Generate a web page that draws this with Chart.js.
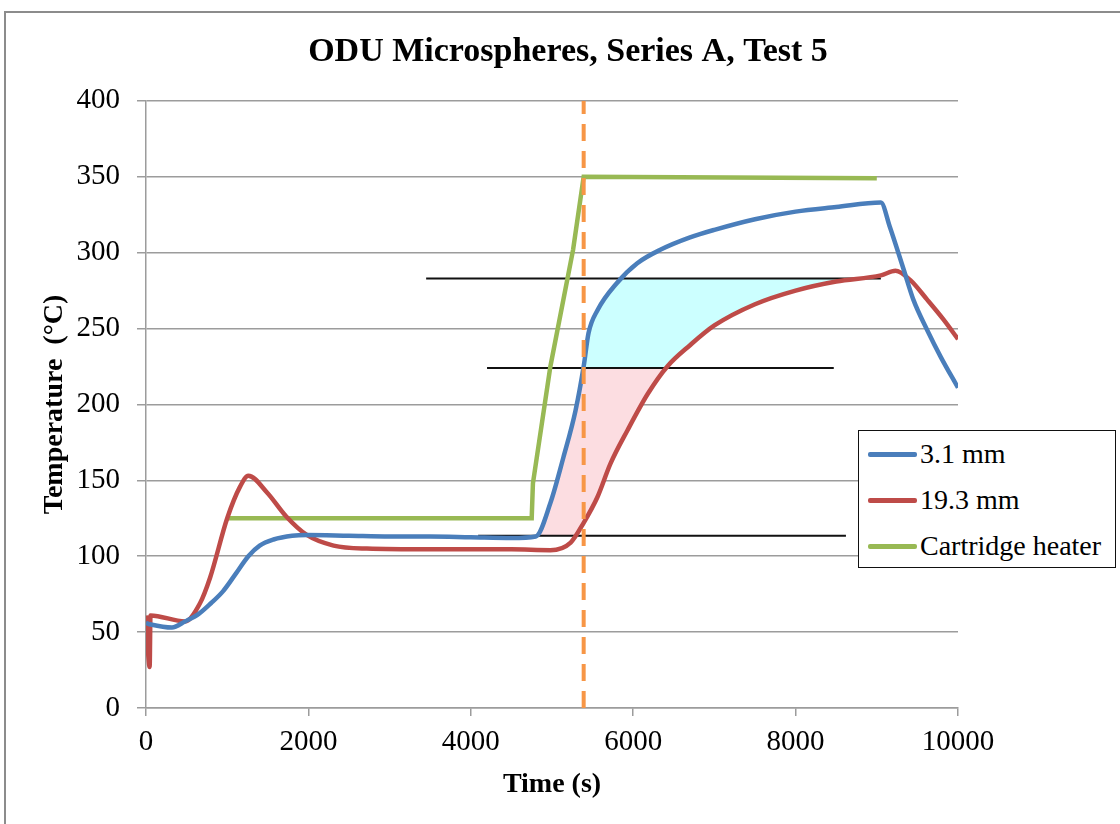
<!DOCTYPE html>
<html>
<head>
<meta charset="utf-8">
<title>ODU Microspheres, Series A, Test 5</title>
<script src="https://cdn.jsdelivr.net/npm/chart.js@4.4.1/dist/chart.umd.min.js"></script>
<style>
  body { margin: 0; background: #fff; }
  #wrap { position: relative; width: 1120px; height: 824px; overflow: hidden; }
  #frame { position: absolute; left: 4px; top: 11px; width: 1200px; height: 900px;
    border-left: 2px solid #8c8c8c; border-top: 2px solid #8c8c8c; }
  canvas { position: absolute; left: 0; top: 0; }
  #legend { position: absolute; left: 858px; top: 430px; width: 256px; height: 136px;
    border: 1.5px solid #111; background: #fff;
    font-family: 'Liberation Serif', serif; font-size: 28px; color: #000; }
  .row { display: flex; align-items: center; height: 46px; }
  .swatch { width: 49px; height: 5px; margin-left: 9px; margin-right: 3px; border-radius: 2px; }
</style>
</head>
<body>
<div id="wrap">
  <div id="frame"></div>
  <canvas id="myChart" width="1120" height="824"></canvas>
  <div id="legend"></div>
</div>
<script>
'use strict';

// series data: time (s) and temperature (°C)

let seriesLabels = ['3.1 mm', '19.3 mm', 'Cartridge heater'];

let blueTime = [0, 60, 320, 480, 650, 800, 950, 1100, 1260, 1400, 1570, 1800, 1980, 2500, 3000, 3500, 4000, 4500, 4800,
  4980, 5140, 5290, 5390, 5450, 5560, 5800, 6050, 6340, 6700, 7000, 7500, 8000, 8500, 9050,
  9160, 9330, 9450, 9620, 9790, 10000];
let blueTemp = [56, 55, 53, 57, 62, 69, 77, 88, 100, 107, 111, 113.5, 114, 113.5, 113, 113, 112.5, 112, 113,
  135, 165, 196, 225, 247, 262, 280, 293, 302, 310, 315, 322, 327, 330, 333,
  317, 289, 269, 249, 231, 211];

let redTime = [0, 45, 55, 480, 665, 790, 1000, 1160, 1260, 1490, 1730, 1980, 2310, 2720, 3500, 4500,
  4980, 5230, 5390, 5560, 5720, 5930, 6180, 6420, 6700, 7000, 7500, 8000, 8500, 9050,
  9230, 9410, 9620, 9820, 10000];
let redTemp = [61, 27, 61, 57, 69, 86, 125, 146, 153, 142, 126, 114, 107, 105, 104.5, 104.5,
  104, 109, 122, 139, 161, 183, 207, 225, 239, 252, 266, 275, 281, 285,
  288, 282, 269, 256, 243];

let heaterTime = [1000, 4750, 4765, 4980, 5260, 5390, 9000];
let heaterTemp = [125, 125, 148, 225, 302, 350, 349];

// horizontal marker lines: level and the time span they cover
let markerTemp = [283, 224, 113.5];
let markerStart = [3450, 4200, 4090];
let markerEnd = [9050, 8470, 8620];

// heater reaches set point
let setPointTime = 5390;

// shaded bands between the two thermocouples, from bandStart onward
let bandLow = [224, 113.5];
let bandHigh = [283, 224];
let bandStart = 4700;

let xTicks = [0, 2000, 4000, 6000, 8000, 10000];
let yTicks = [0, 50, 100, 150, 200, 250, 300, 350, 400];

// helpers

function toPoints(times, temps) {
  let points = [];
  for (let i = 0; i < times.length; i++) {
    points.push({ x: times[i], y: temps[i] });
  }
  return points;
}

let serif = 'Liberation Serif';
let gridGrey = '#9c9c9c';
let bandFill = ['#ccffff', '#fcdde1'];

// fills the region between the two traces inside each band
let bandPlugin = {
  id: 'bands',
  beforeDatasetsDraw(chart) {
    let ctx = chart.ctx;
    let area = chart.chartArea;
    let xScale = chart.scales.x;
    let yScale = chart.scales.y;
    let upper = chart.getDatasetMeta(0).dataset;
    let lower = chart.getDatasetMeta(1).dataset;
    upper.updateControlPoints(area, 'x');
    lower.updateControlPoints(area, 'x');
    let left = xScale.getPixelForValue(bandStart);

    for (let i = 0; i < bandLow.length; i++) {
      let top = yScale.getPixelForValue(bandHigh[i]);
      let bottom = yScale.getPixelForValue(bandLow[i]);
      ctx.save();
      ctx.beginPath();
      ctx.rect(left, top, area.right - left, bottom - top);
      ctx.clip();

      // below the 3.1 mm trace
      ctx.beginPath();
      upper.path(ctx);
      ctx.lineTo(area.right, area.bottom);
      ctx.lineTo(area.left, area.bottom);
      ctx.closePath();
      ctx.clip();

      // above the 19.3 mm trace
      ctx.beginPath();
      lower.path(ctx);
      ctx.lineTo(area.right, area.top);
      ctx.lineTo(area.left, area.top);
      ctx.closePath();
      ctx.fillStyle = bandFill[i];
      ctx.fill();
      ctx.restore();
    }
  }
};

// datasets

let datasets = [
  {
    label: seriesLabels[0],
    data: toPoints(blueTime, blueTemp),
    borderColor: '#4a7ebb',
    borderWidth: 4.5,
    cubicInterpolationMode: 'monotone',
    order: 1
  },
  {
    label: seriesLabels[1],
    data: toPoints(redTime, redTemp),
    borderColor: '#be4b48',
    borderWidth: 4.5,
    cubicInterpolationMode: 'monotone',
    order: 2
  },
  {
    label: seriesLabels[2],
    data: toPoints(heaterTime, heaterTemp),
    borderColor: '#98b954',
    borderWidth: 4.5,
    tension: 0,
    order: 3
  }
];

for (let i = 0; i < markerTemp.length; i++) {
  datasets.push({
    label: 'marker ' + i,
    data: [{ x: markerStart[i], y: markerTemp[i] }, { x: markerEnd[i], y: markerTemp[i] }],
    borderColor: '#111',
    borderWidth: 2,
    order: 4
  });
}

datasets.push({
  label: 'set point',
  data: [{ x: setPointTime, y: 0 }, { x: setPointTime, y: 400 }],
  borderColor: '#f79646',
  borderWidth: 4,
  borderDash: [17, 10],
  order: 0
});

const config = {
  type: 'line',
  data: { datasets: datasets },
  options: {
    responsive: false,
    animation: false,
    devicePixelRatio: 1,
    parsing: false,
    elements: { point: { radius: 0 } },
    layout: { padding: { left: 16, right: 0, top: 0, bottom: 0 } },
    plugins: {
      legend: { display: false },
      tooltip: { enabled: false },
      title: {
        display: true,
        text: 'ODU Microspheres, Series A, Test 5',
        color: '#000',
        font: { family: serif, size: 34, weight: 'bold' },
        padding: { top: 32, bottom: 28 }
      }
    },
    scales: {
      x: {
        type: 'linear',
        min: 0,
        max: 10000,
        afterBuildTicks: (scale) => { scale.ticks = xTicks.map(v => ({ value: v })); },
        afterFit: (scale) => { scale.height = 116; },
        grid: { drawOnChartArea: false, drawTicks: true, tickLength: 8, color: gridGrey, lineWidth: 1.5 },
        border: { color: gridGrey, width: 1.5 },
        ticks: {
          color: '#000', padding: 9, maxRotation: 0,
          font: { family: serif, size: 29 },
          callback: (value) => String(value)
        },
        title: {
          display: true,
          text: 'Time (s)',
          color: '#000',
          font: { family: serif, size: 28, weight: 'bold' },
          padding: { top: 0, bottom: 22 }
        }
      },
      y: {
        type: 'linear',
        min: 0,
        max: 400,
        afterBuildTicks: (scale) => { scale.ticks = yTicks.map(v => ({ value: v })); },
        afterFit: (scale) => { scale.width = 130; },
        grid: { color: gridGrey, lineWidth: 1.5, tickLength: 9 },
        border: { color: gridGrey, width: 1.5 },
        ticks: {
          color: '#000', padding: 17,
          font: { family: serif, size: 29 },
          callback: (value) => String(value)
        },
        title: {
          display: true,
          text: 'Temperature  (°C)',
          color: '#000',
          font: { family: serif, size: 28, weight: 'bold' },
          padding: { top: 22, bottom: 0 }
        }
      },
      // empty strip on the right that holds the legend
      side: {
        type: 'linear',
        position: 'right',
        display: true,
        afterFit: (scale) => { scale.width = 162; },
        grid: { display: false, drawTicks: false },
        border: { display: false },
        ticks: { display: false }
      }
    }
  },
  plugins: [bandPlugin]
};

let canvasChart = document.getElementById('myChart');
const myChart = new Chart(canvasChart, config);

// legend for the three traces
let legendBox = document.getElementById('legend');
for (let i = 0; i < 3; i++) {
  let row = document.createElement('div');
  row.className = 'row';
  let swatch = document.createElement('span');
  swatch.className = 'swatch';
  swatch.style.background = datasets[i].borderColor;
  let text = document.createElement('span');
  text.textContent = seriesLabels[i];
  row.appendChild(swatch);
  row.appendChild(text);
  legendBox.appendChild(row);
}
</script>
</body>
</html>
